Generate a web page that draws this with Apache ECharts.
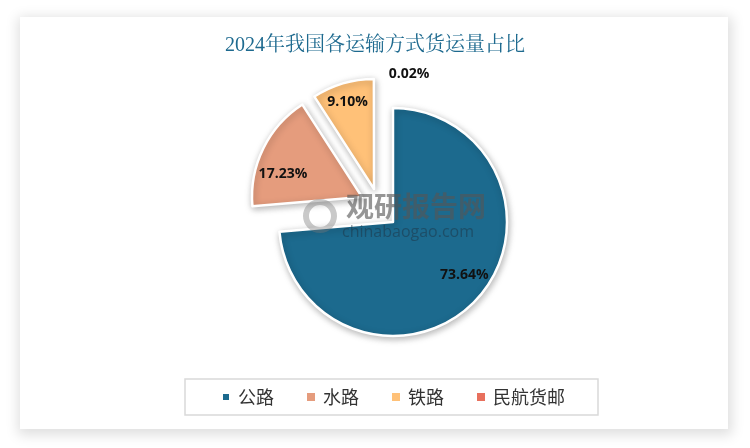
<!DOCTYPE html>
<html>
<head>
<meta charset="utf-8">
<script src="https://cdn.jsdelivr.net/npm/echarts@6/dist/echarts.min.js"></script>
<style>
  html, body { margin: 0; padding: 0; background: #ffffff; }
  #panel { position: absolute; left: 20px; top: 17px; width: 708px; height: 412px; background: #fff;
           box-shadow: 1px 3px 12px 3px rgba(0,0,0,0.13); }
  #chart { position: absolute; left: 0; top: 0; width: 750px; height: 448px; }
</style>
</head>
<body>
<div id="panel"></div>
<div id="chart"></div>
<script>
const titleText = '2024年我国各运输方式货运量占比';
const categories = ['公路', '水路', '铁路', '民航货邮'];
const shares = [73.64, 17.23, 9.10, 0.02];

const colors = ['#1C6A8E', '#E59C7D', '#FFC178', '#E8705D'];

function makeData(visible, labelled) {
  return categories.map((name, i) => ({
    name: name,
    value: shares[i],
    itemStyle: visible.includes(i)
      ? { color: colors[i], borderColor: '#ffffff', borderWidth: 2.5,
          shadowBlur: 7, shadowColor: 'rgba(0,0,0,0.28)', shadowOffsetX: 1, shadowOffsetY: 2 }
      : { color: 'transparent', borderWidth: 0, shadowBlur: 0 },
    label: { show: labelled.includes(i) }
  }));
}

const labelStyle = {
  position: 'inside',
  formatter: p => p.value.toFixed(2) + '%',
  fontFamily: "'Open Sans', 'Noto Sans', sans-serif",
  fontWeight: 'bold',
  fontSize: 14,
  color: '#111'
};

function pieSeries(center, radius, visible, labelled, offsets) {
  return {
    type: 'pie',
    center: center,
    radius: radius,
    startAngle: 90,
    clockwise: true,
    avoidLabelOverlap: false,
    silent: true,
    emphasis: { disabled: true },
    label: labelStyle,
    labelLine: { show: false },
    labelLayout: p => ({ dx: (offsets[p.dataIndex] || [0, 0])[0], dy: (offsets[p.dataIndex] || [0, 0])[1] }),
    data: makeData(visible, labelled)
  };
}

const chart = echarts.init(document.getElementById('chart'), null, { renderer: 'canvas' });
chart.setOption({
  backgroundColor: 'transparent',
  animation: false,
  title: {
    text: titleText,
    left: 'center',
    top: 31,
    textStyle: {
      fontFamily: "'Liberation Serif', 'Noto Serif CJK SC', 'Noto Sans CJK SC', serif",
      fontSize: 20,
      fontWeight: 'normal',
      color: '#1E6A8F'
    }
  },
  legend: {
    left: 185,
    top: 379,
    padding: [9, 33, 9, 36],
    borderColor: '#D9D9D9',
    borderWidth: 1.5,
    itemWidth: 8,
    itemHeight: 8,
    itemGap: 33,
    icon: 'rect',
    textStyle: {
      fontFamily: "'Noto Sans CJK SC', sans-serif",
      fontSize: 18,
      color: '#333',
      padding: [0, 0, 0, 3]
    },
    data: categories.map((n, i) => ({ name: n, itemStyle: { color: colors[i] } }))
  },
  graphic: [
    { type: 'text', left: 346, top: 192, z: 100, silent: true,
      style: { text: '观研报告网', font: "bold 28px 'Noto Sans CJK SC'", fill: 'rgba(85,85,85,0.62)' } },
    { type: 'text', left: 342, top: 224, z: 100, silent: true,
      style: { text: 'chinabaogao.com', font: "16px 'Open Sans'", fill: 'rgba(30,50,65,0.5)' } },
    { type: 'ring', left: 303, top: 199, z: 100, silent: true,
      shape: { r: 17, r0: 11 }, style: { fill: 'rgba(120,120,120,0.4)' } }
  ],
  series: [
    pieSeries([393, 222], 114, [0], [0, 3], { 0: [27, 12], 3: [16, -88] }),
    pieSeries([362, 197], 110, [1], [1], { 1: [-27, 3] }),
    pieSeries([374, 189], 110, [2], [2], { 2: [-10, -31] })
  ]
});
</script>
</body>
</html>
